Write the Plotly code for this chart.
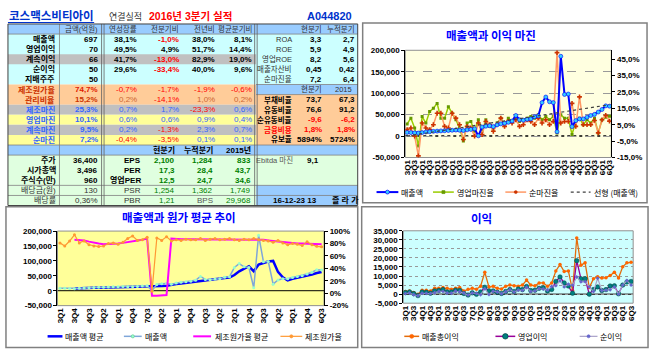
import numpy as np
import plotly.graph_objects as go

W, H = 654, 354
KR = "Noto Sans CJK KR"
NUMF = "Liberation Sans, Noto Sans CJK KR"

# ---------------- data ----------------
QUARTERS = ["3Q1", "3Q2", "3Q3", "3Q4", "4Q1", "4Q2", "4Q3", "4Q4", "5Q1", "5Q2",
            "5Q3", "5Q4", "6Q1", "6Q2", "6Q3", "6Q4", "7Q1", "7Q2", "7Q3", "7Q4",
            "8Q1", "8Q2", "8Q3", "8Q4", "9Q1", "9Q2", "9Q3", "9Q4", "0Q1", "0Q2",
            "0Q3", "0Q4", "1Q1", "1Q2", "1Q3", "1Q4", "2Q1", "2Q2", "2Q3", "2Q4",
            "3Q1", "3Q2", "3Q3", "3Q4", "4Q1", "4Q2", "4Q3", "4Q4", "5Q1", "5Q2",
            "5Q3", "5Q4", "6Q1", "6Q2", "6Q3"]

REVENUE = [8500, 8000, 7500, 7000, 8000, 9500, 10000, 11000, 11500, 12000,
           12500, 13000, 13500, 14000, 13500, 13000, 14500, 15500, 17000, 500,
           21000, 23000, 24000, 22000, 26000, 28500, 30000, 32000, 35000, 48000,
           38000, 37000, 39000, 40000, 45000, 47000, 78000, 91000, 80000, 78000,
           10000, 186000, 97000, 98000, 22000, 36000, 40000, 40000, 44000, 48000,
           50500, 56000, 62000, 70400, 69700]

OP_MARGIN = [5.5, 9, 3, -8, 10, 6, 13, 15, 18, 9,
             9, 16, 12, 8, 3, -5, 6, 7, 1, 8,
             1, 8, 4, 2, 6, 9, 5, 9, 7, 10,
             7, 8, 9, 10, 9, 11, 8, 10, 8, 10,
             0, 11, 9, 9, -1, 7, 9, 5, 8, 6,
             9, 0, 8, 9.6, 10.1]

NET_MARGIN = [2, 3, -2, -14, 6, 3, 2, 5, 12, 12,
              4, 3, 12, 9, 5, -4, 4, 3, -2, 6,
              -1, 7, 5, 1, 5, 9, 4, 7, 6, 8,
              4, 5, 8, 7, 5, 9, 6, 8, 5, 7,
              49, 6, 7, 7, 18, 4, 22, 5, 5, 5,
              7.6, 0, 8, 10.7, 7.2]

REV_AVG = [None, None, None, 7700, 7600, 8100, 8600, 9600, 10200, 10900,
           11300, 11800, 12300, 12800, 13300, 13500, 13600, 14000, 14500, 12500,
           13500, 15500, 17000, 21000, 22500, 24500, 26500, 28000, 30500, 34000,
           36500, 38500, 40000, 41500, 43000, 44000, 52500, 65000, 74000, 82000,
           65000, 88000, 93000, 98000, 100000, 63000, 45000, 34500, 40000, 43000,
           45500, 49500, 54000, 59500, 63000]

COST_RATIO = [81, 76, 84, 94, 81, 84, 78, 76, 75, 76,
              80, 81, 79, 82, 88, 92, 85, 86, 90, 3,
              89, 85, 91, 84, 86, 85, 87, 86, 86, 88,
              85, 87, 88, 86, 87, 88, 86, 85, 87, 86,
              88, 86, 85, 84, 82, 85, 81, 78, 80, 79,
              76.6, 83, 78, 75.4, 74.7]

COST_AVG = [None, None, None, 86, 86, 85, 83, 81, 80, 79,
            79, 79, 80, 81, 82, 84, 85, 86, 88, -4,
            -4, -4, -3, 88, 87, 87, 87, 87, 87, 87,
            87, 87, 87, 87, 87, 87, 87, 86, 86, 86,
            86, 86, 86, 85, 84, 84, 82, 81, 80, 80,
            80, 80, 80, 79, 79]

GROSS_PROFIT = [1400, 1800, 900, 0, 2100, 2100, 1800, 3200, 3200, 3600,
                3200, 2700, 3200, 3600, 1800, 2700, 3200, 2700, 4400, 12100,
                3900, 4300, 3200, 2800, 4400, 5000, 4600, 4400, 5000, 7800,
                5000, 4600, 6200, 6200, 4400, 6200, 12800, 16400, 12500, 12800,
                2000, 31000, 16000, 17300, 3600, 8500, 9600, 8900, 9100, 10300,
                12100, 8900, 15100, 17300, 17600]

OP_PROFIT = [900, 1200, 300, -800, 1200, 1000, 500, 1800, 2000, 2500,
             1200, 1200, 2200, 2000, 400, -500, 700, -100, 1200, 3800,
             1800, 1800, 1000, 400, 1500, 2500, 1500, 2800, 2500, 4200,
             2000, 2200, 3200, 3500, 1800, 2600, 7000, 9500, 6200, 4500,
             500, 18500, 8500, 8500, 0, 2500, 4000, 2000, 2500, 4500,
             4600, 200, 5000, 6700, 7000]

NET_PROFIT = [300, 600, -300, -900, 500, 400, 300, 800, 1500, 1500,
              600, 500, 1600, 1300, 600, -500, 600, 400, -300, 3000,
              -200, 1600, 1200, 200, 1300, 2500, 1200, 2200, 2100, 3800,
              1500, 1800, 3100, 2800, 2200, 4200, 4700, 7300, 4000, 5500,
              4900, 9500, 6800, 6900, 4000, 1400, 8800, 2000, 2200, 2400,
              3900, 0, 5000, 7500, 5000]

# table contents
HEAD_TOP = ["금액(억원)", "연성장률", "전분기비", "전년비", "평균분기비"]
TOP_LABELS = ["매출액", "영업이익", "계속이익", "순이익", "지배주주"]
TOP_AMOUNT = ["697", "70", "66", "50", "50"]
TOP_YOY = ["38,1%", "49,5%", "41,7%", "29,6%", ""]
TOP_QOQ = ["-1,0%", "4,9%", "-13,0%", "-33,4%", ""]
TOP_YEAR = ["38,0%", "51,7%", "82,9%", "40,0%", ""]
TOP_AVG = ["8,1%", "14,4%", "19,0%", "9,6%", ""]

RATIO_LABELS = ["제조원가율", "관리비율", "제조마진", "영업마진", "계속마진", "순마진"]
RATIO_VALUES = ["74,7%", "15,2%", "25,3%", "10,1%", "9,5%", "7,2%"]
RATIO_YOY = ["-0,7%", "0,2%", "0,7%", "0,6%", "0,2%", "-0,4%"]
RATIO_QOQ = ["-1,7%", "-14,1%", "1,7%", "0,6%", "-1,3%", "-3,5%"]
RATIO_YEAR = ["-1,9%", "1,0%", "-23,3%", "0,9%", "2,3%", "0,1%"]
RATIO_AVG = ["-0,6%", "0,2%", "0,6%", "0,4%", "0,7%", "0,1%"]

HEAD_R1 = ["현분기", "누적분기"]
R1_LABELS = ["ROA", "ROE", "영업ROE", "매출자산비", "순마진율"]
R1_CUR = ["3,3", "5,9", "8,2", "0,45", "7,2"]
R1_CUM = ["2,7", "4,9", "5,6", "0,42", "6,4"]
HEAD_R2 = ["현분기", "2015"]
R2_LABELS = ["부채비율", "유동비율", "순유동비율", "금융비용", "유보율"]
R2_CUR = ["73,7", "76,6", "-9,6", "1,8%", "5894%"]
R2_PREV = ["67,3", "91,2", "-6,2", "1,8%", "5724%"]

HEAD_VAL = ["현분기", "누적분기", "2015년"]
MKT_LABELS = ["주가", "시가총액", "주식수(만)", "배당금(원)", "배당률"]
MKT_VALUES = ["36,400", "3,496", "960", "130", "0,36%"]
VAL_LABELS = ["EPS", "PER", "영업PER", "PSR", "PBR"]
VAL_CUR = ["2,100", "17,3", "12,5", "1,254", "1,21"]
VAL_CUM = ["1,284", "28,4", "24,7", "1,362", "BPS"]
VAL_2015 = ["833", "43,7", "34,6", "1,749", "29,968"]
EBITDA = ["Ebitda 마진", "9,1"]
FOOTER = ["16-12-23 13", "즐 라 가"]

# ---------------- helpers ----------------
def X(p):
    return p / W


def Y(p):
    return 1 - p / H


shapes, annos = [], []


def rect(x0, y0, x1, y1, fill=None, line=None, lw=1.0, layer="below"):
    shapes.append(dict(type="rect", xref="paper", yref="paper",
                       x0=X(x0), x1=X(x1), y0=Y(y1), y1=Y(y0),
                       fillcolor=fill if fill else "rgba(0,0,0,0)",
                       line=dict(color=line if line else "rgba(0,0,0,0)",
                                 width=lw if line else 0),
                       layer=layer))


def seg(x0, y0, x1, y1, color, lw=1.0, dash="solid", layer="below"):
    shapes.append(dict(type="line", xref="paper", yref="paper",
                       x0=X(x0), x1=X(x1), y0=Y(y0), y1=Y(y1),
                       line=dict(color=color, width=lw, dash=dash), layer=layer))


def dot(x, y, r, fill, line=None, kind="circle"):
    shapes.append(dict(type=kind, xref="paper", yref="paper",
                       x0=X(x - r), x1=X(x + r), y0=Y(y + r), y1=Y(y - r),
                       fillcolor=fill, line=dict(color=line or fill, width=0.7),
                       layer="above"))


def txt(x, y, s, color="#000000", size=8, bold=True, anchor="center", family=NUMF):
    if s == "":
        return
    annos.append(dict(xref="paper", yref="paper", x=X(x), y=Y(y),
                      text=("<b>%s</b>" % s) if bold else s, showarrow=False,
                      xanchor=anchor, yanchor="middle", borderpad=0,
                      font=dict(family=family, size=size, color=color)))


RED = "#FF0000"
BLUE_T = "#3366FF"
HEADER = "#99CCFF"
CYAN = "#CCFFFF"
GRAY = "#C0C0C0"
PEACH = "#FFCC99"
YELLOW = "#FFFF99"
GREEN_BG = "#E0FFE0"
GREEN_T = "#008000"

# ---------------- title row ----------------
txt(5, 12, "코스맥스비티아이", "#0033CC", 11.5, True, "left")
seg(5, 19, 92, 19, "#0033CC", 1.2, layer="above")
txt(106, 12.5, "연결실적", "#333333", 9, False, "left")
txt(146, 12, "2016년 3분기 실적", RED, 10.5, True, "left")
txt(306, 12, "A044820", "#0033CC", 11, True, "left")

# ---------------- table ----------------
TOP = 20.5
RH = 10.35


def rt(i):
    return TOP + RH * i


def ry(i):
    return TOP + RH * (i + 0.5)


L, C1, D1, D2, R = 5, 57, 101, 255.5, 358

rect(L, rt(0), R, rt(1), HEADER)
rect(L, rt(1), R, rt(6), CYAN)
rect(L, rt(3), D2, rt(4), GRAY)
rect(L, rt(6), D2, rt(8), PEACH)
rect(D2, rt(6), R, rt(7), HEADER)
rect(D2, rt(7), R, rt(12), PEACH)
for i, c in [(8, GRAY), (9, YELLOW), (10, GRAY), (11, YELLOW)]:
    rect(L, rt(i), D2, rt(i + 1), c)
rect(L, rt(12), R, rt(13), HEADER)
rect(L, rt(13), R, rt(16), GREEN_BG)
rect(L, rt(16), D2, rt(18), GREEN_BG)
rect(D2, rt(16), R, rt(18), HEADER)

for yy in [rt(1), rt(12), rt(13), rt(16), rt(17)]:
    seg(L, yy, R, yy, "#808080", 0.8)
seg(D2, rt(6), R, rt(6), "#808080", 0.8)
seg(D2, rt(7), R, rt(7), "#808080", 0.8)
seg(C1, rt(0), C1, rt(18), "#808080", 0.8)
for xx in [D1 - 1.5, D1 + 1, D2 - 1.5, D2 + 1]:
    seg(xx, rt(0), xx, rt(18), "#606060", 0.8)
rect(L, rt(0), R, rt(18), None, "#404040", 1)

# header row
col_r = [97, 136, 179, 215, 253]
for s, xr in zip(HEAD_TOP, col_r):
    txt(xr, ry(0), s, "#333333", 7.5, False, "right")
txt(323, ry(0), HEAD_R1[0], "#333333", 7.5, False, "right")
txt(356, ry(0), HEAD_R1[1], "#333333", 7.5, False, "right")

for k in range(5):
    r = ry(1 + k)
    txt(53, r, TOP_LABELS[k], "#000000", 8, True, "right")
    txt(97, r, TOP_AMOUNT[k], "#000000", 8, True, "right")
    txt(136, r, TOP_YOY[k], "#000000", 8, True, "right")
    txt(179, r, TOP_QOQ[k], RED if TOP_QOQ[k].startswith("-") else "#000000", 8, True, "right")
    txt(215, r, TOP_YEAR[k], "#000000", 8, True, "right")
    txt(252, r, TOP_AVG[k], "#000000", 8, True, "right")
    txt(293, r, R1_LABELS[k], "#333333", 7.5, False, "right")
    txt(323, r, R1_CUR[k], "#000000", 8, True, "right")
    txt(356, r, R1_CUM[k], "#000000", 8, True, "right")

txt(323, ry(6), HEAD_R2[0], "#333333", 7.5, False, "right")
txt(353, ry(6), HEAD_R2[1], "#333333", 7.5, False, "right")

for k in range(6):
    r = ry(6 + k)
    if k < 2:
        lab_c, pos_c = "#CC3300", "#CC6633"
        val_c = "#E02000" if k == 0 else "#CC3300"
    else:
        lab_c = pos_c = val_c = BLUE_T
    txt(53, r, RATIO_LABELS[k], lab_c, 8, True, "right")
    txt(97, r, RATIO_VALUES[k], val_c, 8, True, "right")
    for s, xr in zip([RATIO_YOY[k], RATIO_QOQ[k], RATIO_YEAR[k], RATIO_AVG[k]], [136, 179, 215, 252]):
        txt(xr, r, s, RED if s.startswith("-") else pos_c, 8, False, "right")

for k in range(5):
    r = ry(7 + k)
    lab_c = RED if R2_LABELS[k] == "금융비용" else "#000000"
    vc = RED if (R2_CUR[k].startswith("-") or R2_LABELS[k] == "금융비용") else "#000000"
    txt(293, r, R2_LABELS[k], lab_c, 7.5, True, "right")
    txt(323, r, R2_CUR[k], vc, 8, True, "right")
    txt(356, r, R2_PREV[k], vc, 8, True, "right")

for s, xr in zip(HEAD_VAL, [175, 213, 251]):
    txt(xr, ry(12), s, "#000000", 8, True, "right")

for k in range(5):
    r = ry(13 + k)
    strong = k < 3
    lc = "#000000" if strong else "#333333"
    txt(55, r, MKT_LABELS[k], lc, 8, strong, "right")
    txt(97, r, MKT_VALUES[k], lc, 8, strong, "right")
    txt(140, r, VAL_LABELS[k], lc, 8, strong, "right")
    txt(175, r, VAL_CUR[k], GREEN_T, 8, strong, "right")
    txt(213, r, VAL_CUM[k], "#555555" if VAL_CUM[k] == "BPS" else GREEN_T, 8, strong, "right")
    txt(251, r, VAL_2015[k], GREEN_T, 8, strong, "right")

txt(294, ry(13), EBITDA[0], "#555555", 7.5, False, "right")
txt(320, ry(13), EBITDA[1], "#000000", 8, True, "right")
txt(318, ry(17), FOOTER[0], "#000000", 8, True, "right")
txt(346, ry(17), FOOTER[1], "#000000", 8, True, "center")

# ---------------- panels ----------------
rect(363, 19.5, 650, 204, "#FFFFFF", "#808080", 1.5)
rect(3, 208, 358, 352.5, "#FFFFFF", "#808080", 1.5)
rect(362, 208, 651, 352.5, "#FFFFFF", "#808080", 1.5)

TR = (406, 47.5, 614, 157.5)
BL = (55, 233, 324, 309.5)
BR = (404, 232.7, 636, 307)
rect(TR[0], TR[1], TR[2], TR[3], "#FFFFE0", "#909090", 1)
rect(BL[0], BL[1], BL[2], BL[3], "#FFFF99", "#909090", 1)
rect(BR[0], BR[1], BR[2], BR[3], "#CCFFFF", "#909090", 1)

txt(493, 32, "매출액과 이익 마진", "#0000FF", 11.5, True, "center", KR)
txt(178, 219, "매출액과 원가 평균 추이", "#0000FF", 11.5, True, "center", KR)
txt(483, 220, "이익", "#0000FF", 11.5, True, "center", KR)

# ---------------- traces ----------------
idx = list(range(len(QUARTERS)))
fig = go.Figure()

# top-right: margins (right axis, main) then revenue (left axis overlay)
fig.add_trace(go.Scatter(x=idx, y=OP_MARGIN, xaxis="x", yaxis="y", mode="lines+markers",
                         line=dict(color="#99CC00", width=1.5),
                         marker=dict(symbol="square", size=3, color="#669900")))
fig.add_trace(go.Scatter(x=idx, y=NET_MARGIN, xaxis="x", yaxis="y", mode="lines+markers",
                         line=dict(color="#FF9966", width=1.5),
                         marker=dict(symbol="cross", size=4, color="#CC3300")))
fig.add_trace(go.Scatter(x=idx, y=REVENUE, xaxis="x", yaxis="y2", mode="lines+markers",
                         line=dict(color="#0000FF", width=2),
                         marker=dict(symbol="circle", size=4, color="#33CCFF",
                                     line=dict(color="#0000FF", width=0.6))))
coef = np.polyfit(idx, REVENUE, 1)
trend = np.polyval(coef, idx)
fig.add_trace(go.Scatter(x=idx, y=trend, xaxis="x", yaxis="y2", mode="lines",
                         line=dict(color="#404040", width=1.2, dash="dot")))

# bottom-left
fig.add_trace(go.Scatter(x=idx, y=REV_AVG, xaxis="x2", yaxis="y3", mode="lines",
                         line=dict(color="#0000FF", width=2.5)))
fig.add_trace(go.Scatter(x=idx, y=REVENUE, xaxis="x2", yaxis="y3", mode="lines+markers",
                         line=dict(color="#7FA6D9", width=1.5),
                         marker=dict(symbol="circle", size=3, color="#99FFCC")))
fig.add_trace(go.Scatter(x=idx, y=COST_AVG, xaxis="x2", yaxis="y4", mode="lines",
                         line=dict(color="#FF00FF", width=2)))
fig.add_trace(go.Scatter(x=idx, y=COST_RATIO, xaxis="x2", yaxis="y4", mode="lines+markers",
                         line=dict(color="#FF9933", width=1.2),
                         marker=dict(symbol="circle", size=3, color="#FF9933")))

# bottom-right
fig.add_trace(go.Scatter(x=idx, y=GROSS_PROFIT, xaxis="x3", yaxis="y5", mode="lines+markers",
                         line=dict(color="#E46C0A", width=1.3),
                         marker=dict(symbol="circle", size=3.5, color="#FF6600")))
fig.add_trace(go.Scatter(x=idx, y=OP_PROFIT, xaxis="x3", yaxis="y5", mode="lines+markers",
                         line=dict(color="#990099", width=1.3),
                         marker=dict(symbol="circle", size=4.5, color="#008080",
                                     line=dict(color="#004040", width=0.5))))
fig.add_trace(go.Scatter(x=idx, y=NET_PROFIT, xaxis="x3", yaxis="y5", mode="lines+markers",
                         line=dict(color="#A8A0C8", width=1.1),
                         marker=dict(symbol="diamond", size=3, color="#6666CC")))

fig.update_traces(showlegend=False, hoverinfo="skip")

# zero lines
shapes.append(dict(type="line", xref="x", yref="y2", x0=-0.5, x1=54.5, y0=0, y1=0,
                   line=dict(color="#000000", width=1.5, dash="dot"), layer="below"))
shapes.append(dict(type="line", xref="x2", yref="y3", x0=-0.5, x1=54.5, y0=0, y1=0,
                   line=dict(color="#000000", width=1), layer="below"))
shapes.append(dict(type="line", xref="x3", yref="y5", x0=-0.5, x1=54.5, y0=0, y1=0,
                   line=dict(color="#404040", width=1.5), layer="below"))

# ---------------- legends (manual) ----------------
LG_TR = 193
seg(377, LG_TR, 399, LG_TR, "#0000FF", 2, layer="above")
dot(388, LG_TR, 2, "#33CCFF", "#0000FF")
txt(401, LG_TR, "매출액", "#000000", 8, False, "left", KR)
seg(434, LG_TR, 455, LG_TR, "#99CC00", 1.5, layer="above")
dot(444.5, LG_TR, 1.5, "#669900", kind="rect")
txt(457, LG_TR, "영업마진율", "#000000", 8, False, "left", KR)
seg(507, LG_TR, 528, LG_TR, "#FF9966", 1.5, layer="above")
dot(517.5, LG_TR, 1.5, "#CC3300")
txt(530, LG_TR, "순마진율", "#000000", 8, False, "left", KR)
seg(573, LG_TR, 593, LG_TR, "#404040", 1.2, dash="dot", layer="above")
txt(595, LG_TR, "선형 (매출액)", "#000000", 8, False, "left", KR)

LG_B = 341
seg(45, LG_B, 60, LG_B, "#0000FF", 2.5, layer="above")
txt(62, LG_B, "매출액 평균", "#000000", 8, False, "left", KR)
seg(122, LG_B, 140, LG_B, "#7FA6D9", 1.5, layer="above")
dot(131, LG_B, 1.6, "#99FFCC", "#66CC99")
txt(142, LG_B, "매출액", "#000000", 8, False, "left", KR)
seg(192, LG_B, 210, LG_B, "#FF00FF", 2, layer="above")
txt(213, LG_B, "제조원가율 평균", "#000000", 8, False, "left", KR)
seg(280, LG_B, 302, LG_B, "#FF9933", 1.2, layer="above")
dot(291, LG_B, 1.6, "#FF9933")
txt(304, LG_B, "제조원가율", "#000000", 8, False, "left", KR)

seg(405, LG_B, 420, LG_B, "#E46C0A", 1.5, layer="above")
dot(412.5, LG_B, 2, "#FF6600")
txt(422, LG_B, "매출총이익", "#000000", 8, False, "left", KR)
seg(497, LG_B, 517, LG_B, "#990099", 1.5, layer="above")
dot(507, LG_B, 2.8, "#008080", "#004040")
txt(519, LG_B, "영업이익", "#000000", 8, False, "left", KR)
seg(582, LG_B, 600, LG_B, "#A8A0C8", 1.2, layer="above")
dot(591, LG_B, 1.5, "#6666CC")
txt(602, LG_B, "순이익", "#000000", 8, False, "left", KR)

# ---------------- axes ----------------
TICKF = dict(family="Liberation Sans, Arial", size=8, color="#000000", weight="bold")


def xdom(b):
    return [X(b[0]), X(b[2])]


def ydom(b):
    return [Y(b[3]), Y(b[1])]


def xax(b, anchor, step):
    tv = idx[::step]
    return dict(domain=xdom(b), anchor=anchor, range=[-0.5, 54.5], tickvals=tv,
                ticktext=[QUARTERS[i] for i in tv], tickangle=-90, tickfont=TICKF,
                showgrid=False, zeroline=False, showline=False, ticks="", fixedrange=True)


def money_ticks(lo, hi, step):
    vals = list(range(lo, hi + 1, step))
    return vals, ["{:,}".format(v) for v in vals]


rev_v, rev_t = money_ticks(-50000, 200000, 50000)
pr_v, pr_t = money_ticks(-5000, 35000, 5000)
mg_v = [-15, -5, 5, 15, 25, 35, 45]
mg_t = ["%d,0%%" % v for v in mg_v]
cr_v = [-20, 0, 20, 40, 60, 80, 100]
cr_t = ["%d%%" % v for v in cr_v]

AXL = dict(showline=True, linecolor="#000000", linewidth=1, ticks="outside",
           ticklen=3, tickcolor="#000000", zeroline=False, tickfont=TICKF, fixedrange=True)

fig.update_layout(
    width=W, height=H, margin=dict(l=0, r=0, t=0, b=0),
    paper_bgcolor="#FFFFFF", plot_bgcolor="rgba(0,0,0,0)",
    showlegend=False,
    xaxis=xax(TR, "y", 2),
    yaxis=dict(domain=ydom(TR), anchor="x", side="right", range=[-15, 50.4],
               tickvals=mg_v, ticktext=mg_t, showgrid=False, **AXL),
    yaxis2=dict(domain=ydom(TR), anchor="x", overlaying="y", side="left",
                range=[-50000, 200000], tickvals=rev_v, ticktext=rev_t,
                showgrid=True, gridcolor="#999999", griddash="dash", gridwidth=1, **AXL),
    xaxis2=xax(BL, "y3", 3),
    yaxis3=dict(domain=ydom(BL), anchor="x2", side="left", range=[-50000, 200000],
                tickvals=rev_v, ticktext=rev_t, showgrid=False, **AXL),
    yaxis4=dict(domain=ydom(BL), anchor="x2", overlaying="y3", side="right",
                range=[-20, 100], tickvals=cr_v, ticktext=cr_t, showgrid=False, **AXL),
    xaxis3=xax(BR, "y5", 2),
    yaxis5=dict(domain=ydom(BR), anchor="x3", side="left", range=[-5000, 35000],
                tickvals=pr_v, ticktext=pr_t, showgrid=True, gridcolor="#999999",
                griddash="dot", gridwidth=1, **AXL),
    shapes=shapes, annotations=annos,
)

fig.write_html("out.html")
